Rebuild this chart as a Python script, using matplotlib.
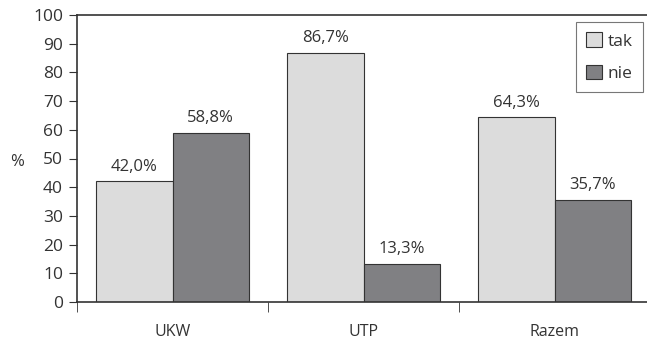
import numpy as np
import matplotlib.pyplot as plt

plt.rcParams['font.family'] = ['Open Sans', 'DejaVu Sans']

categories = ['UKW', 'UTP', 'Razem']
tak = [42.0, 86.7, 64.3]
nie = [58.8, 13.3, 35.7]
series_names = ['tak', 'nie']

txt = '#333333'

fig = plt.figure(figsize=(6.47, 3.39), dpi=100)
ax = fig.add_axes([77 / 647, 37 / 339, 573 / 647, 287 / 339])

x = np.arange(len(categories))
w = 0.4
b1 = ax.bar(x - w / 2, tak, w, color='#dcdcdc', edgecolor='#333333', linewidth=0.8, label=series_names[0])
b2 = ax.bar(x + w / 2, nie, w, color='#808083', edgecolor='#333333', linewidth=0.8, label=series_names[1])

for bars in (b1, b2):
    for r in bars:
        v = r.get_height()
        ax.annotate(f'{v:.1f}%'.replace('.', ','), (r.get_x() + r.get_width() / 2, v),
                    xytext=(0, 5), textcoords='offset points', ha='center', va='bottom',
                    fontsize=12, color=txt)

ax.set_xlim(-0.5, 2.5)
ax.set_ylim(0, 100)
ax.set_yticks(range(0, 101, 10))
ax.set_xticks(x)
ax.set_xticklabels(categories)
ax.set_xticks([-0.5, 0.5, 1.5], minor=True)
ax.tick_params(axis='x', which='major', length=0, pad=16, labelsize=11.5, labelcolor=txt)
ax.tick_params(axis='x', which='minor', length=7, direction='out', color=txt)
ax.tick_params(axis='y', length=6, direction='out', pad=4, labelsize=12.5, labelcolor=txt, color=txt)
for s in ax.spines.values():
    s.set_color(txt)
    s.set_linewidth(1.2)

fig.text(17 / 647, 1 - 162 / 339, '%', ha='center', va='center', fontsize=12, color=txt)

leg = ax.legend(loc='upper right', bbox_to_anchor=(0.988, 0.976),
                frameon=True, fancybox=False, edgecolor='#555555', fontsize=12.5,
                handlelength=0.95, handleheight=0.95, handletextpad=0.3, borderpad=0.6,
                labelspacing=0.85, borderaxespad=0)
leg.get_frame().set_linewidth(0.8)
for t in leg.get_texts():
    t.set_color(txt)

fig.savefig('out.png', dpi=100)
